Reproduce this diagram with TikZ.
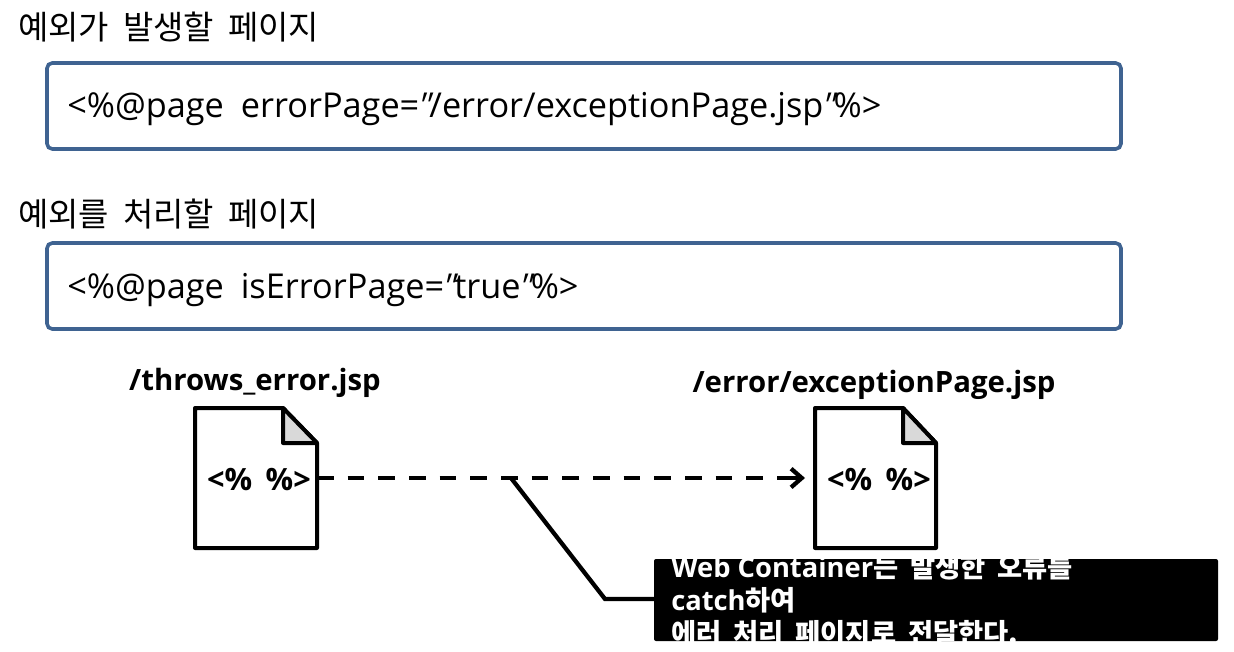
\documentclass[tikz,border=0pt]{standalone}
\usepackage{fontspec}
\setmainfont{Open Sans}
\newfontfamily\kr[WordSpace=1.9]{Noto Sans CJK KR}
\newfontfamily\slq[FakeSlant=0.3]{Open Sans}
\newcommand{\ko}[1]{{\kr #1}}
\newcommand{\qq}{\hspace{-3.5pt}{\slq ″}\hspace{1pt}}
\usetikzlibrary{arrows.meta}
\definecolor{boxblue}{HTML}{3F6391}
\tikzset{
 codebox/.style={draw=boxblue,line width=2.7pt,rounded corners=4pt,fill=white},
 heading/.style={anchor=base west,inner sep=0pt,font=\fontsize{24.7}{27}\selectfont},
 code/.style={anchor=base west,inner sep=0pt,font=\fontsize{25.7}{28}\selectfont},
 fname/.style={anchor=base,inner sep=0pt,font=\bfseries\fontsize{22}{27}\selectfont},
 doc/.style={draw=black,line width=3pt,fill=white,line join=round},
 fold/.style={draw=black,line width=3pt,fill=black!15,line join=round},
 tag/.style={anchor=base,inner sep=0pt,font=\bfseries\fontsize{23}{25}\selectfont},
 leader/.style={draw=black,line width=3.2pt},
}
\begin{document}
\begin{tikzpicture}[x=0.75pt,y=-0.75pt]
\useasboundingbox (0,0) rectangle (1234,652);
\fill[white] (0,0) rectangle (1234,652);
\node[heading] (h1) at (18,40) {\ko{예외가 발생할 페이지}};
\draw[codebox] (47,63) rectangle (1121,149);
\node[code] (c1) at (67,118) {<\%@page\hspace{6pt} errorPage=\qq/error/exceptionPage.jsp\qq\%>};
\node[heading] (h2) at (18,227) {\ko{예외를 처리할 페이지}};
\draw[codebox] (47,243) rectangle (1121,329);
\node[code] (c2) at (67,298) {<\%@page\hspace{6pt} isErrorPage=\qq true\qq\%>};
\node[fname] (f1) at (255,390) {/throws\_error.jsp};
\node[fname] (f2) at (874,392) {/error/exceptionPage.jsp};
\draw[doc] (195,408) -- (283,408) -- (317,443) -- (317,548) -- (195,548) -- cycle;
\draw[fold] (283,408) -- (317,443) -- (283,443) -- cycle;
\draw[doc] (815,408) -- (903,408) -- (936,443) -- (936,548) -- (815,548) -- cycle;
\draw[fold] (903,408) -- (936,443) -- (903,443) -- cycle;
\node[tag] (t1) at (259,490) {<\%\hspace{4pt} \%>};
\node[tag] (t2) at (879,490) {<\%\hspace{4pt} \%>};
\coordinate (s) at (317,478);
\coordinate (e) at (805,478);
\draw[leader,dash pattern=on 12.5pt off 10.5pt] (s) -- ([xshift=-6pt]e);
\draw[leader,-{Straight Barb[length=8pt,width=14pt]}] ([xshift=-12pt]e) -- (e);
\coordinate (j) at (511,478);
\fill[black,rounded corners=1.5pt] (654,559) rectangle (1218,641);
\coordinate (k) at (654,599);
\draw[leader] (j) -- (605,599) -- (k);
\begin{scope}
\clip (654,559) rectangle (1218,641);
\node[anchor=north west,inner sep=0pt,text=white,align=left,font=\bfseries\fontsize{20.5}{24.8}\selectfont] (n) at (671,554) {Web Container\ko{는 발생한 오류를}\\catch\ko{하여}\\\ko{에러 처리 페이지로 전달한다.}};
\end{scope}
\end{tikzpicture}
\end{document}
